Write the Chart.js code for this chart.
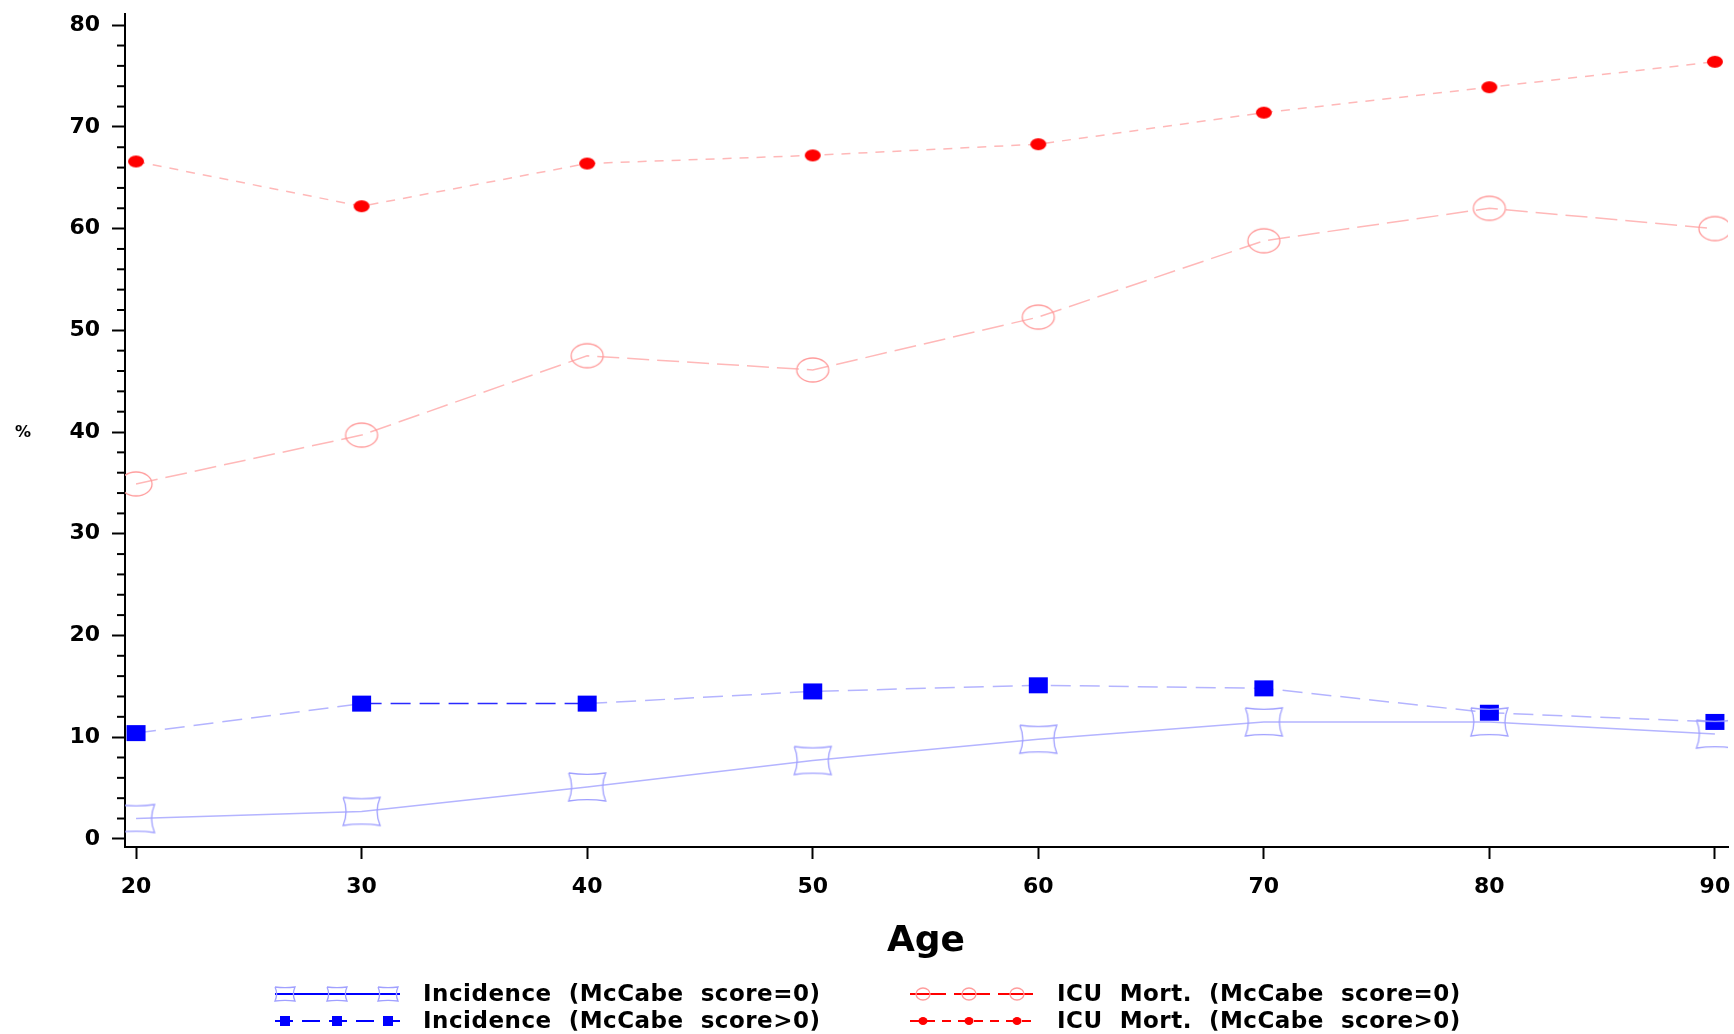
<!DOCTYPE html>
<html>
<head>
<meta charset="utf-8">
<script src="https://cdn.jsdelivr.net/npm/chart.js@4.4.0/dist/chart.umd.min.js"></script>
<style>
html, body { margin: 0; padding: 0; background: #fff; }
#wrap { width: 1734px; height: 1034px; }
</style>
</head>
<body>
<div id="wrap"><canvas id="ageChart"></canvas></div>
<script>
// values
var ages = [20, 30, 40, 50, 60, 70, 80, 90];
var incidenceZero = [2.0, 2.7, 5.1, 7.7, 9.8, 11.5, 11.5, 10.3];
var incidencePos = [10.4, 13.3, 13.3, 14.5, 15.1, 14.8, 12.4, 11.5];
var mortZero = [34.9, 39.7, 47.5, 46.1, 51.3, 58.8, 62.0, 60.0];
var mortPos = [66.6, 62.2, 66.4, 67.2, 68.3, 71.4, 73.9, 76.4];
var xTicks = [20, 30, 40, 50, 60, 70, 80, 90];
var yTicks = [0, 10, 20, 30, 40, 50, 60, 70, 80];
var seriesNames = [
    'Incidence  (McCabe  score=0)',
    'Incidence  (McCabe  score>0)',
    'ICU  Mort.  (McCabe  score=0)',
    'ICU  Mort.  (McCabe  score>0)'
];

var PINK = '#ffb8b8';
var LAVENDER = '#b4b4ff';
var FONT = '"DejaVu Sans", sans-serif';

function pts(vals) {
    return vals.map(function (v, i) { return { x: ages[i], y: v }; });
}

// marker drawing helpers (used both on the plot and in the legend)
function drawPillow(ctx, cx, cy, w, h, color) {
    // box with slightly concave sides
    var l = cx - w / 2, r = cx + w / 2, t = cy - h / 2, b = cy + h / 2;
    var bx = w * 0.08, by = h * 0.05;
    ctx.save();
    ctx.strokeStyle = color;
    ctx.lineWidth = 1.3;
    ctx.beginPath();
    ctx.moveTo(l, t); ctx.quadraticCurveTo(cx, t + by * 2, r, t);
    ctx.quadraticCurveTo(r - bx * 2, cy, r, b);
    ctx.quadraticCurveTo(cx, b - by * 2, l, b);
    ctx.quadraticCurveTo(l + bx * 2, cy, l, t);
    ctx.stroke();
    ctx.restore();
}
function drawEllipse(ctx, cx, cy, w, h, color, filled) {
    ctx.save();
    ctx.beginPath();
    ctx.ellipse(cx, cy, w / 2, h / 2, 0, 0, Math.PI * 2);
    if (filled) { ctx.fillStyle = color; ctx.fill(); }
    else { ctx.strokeStyle = color; ctx.lineWidth = 1.3; ctx.stroke(); }
    ctx.restore();
}
function drawBox(ctx, cx, cy, w, h, color) {
    ctx.save();
    ctx.fillStyle = color;
    ctx.fillRect(cx - w / 2, cy - h / 2, w, h);
    ctx.restore();
}
function marker(w, h, fn) {
    var c = document.createElement('canvas');
    c.width = w + 4; c.height = h + 4;
    fn(c.getContext('2d'), c.width / 2, c.height / 2);
    return c;
}

var pillowMark = marker(37, 28, function (ctx, x, y) { drawPillow(ctx, x, y, 37, 28, '#a0a0ff'); });
var squareMark = marker(19, 16, function (ctx, x, y) { drawBox(ctx, x, y, 19, 16, '#0000ff'); });
var circleMark = marker(32, 24, function (ctx, x, y) { drawEllipse(ctx, x, y, 32, 24, '#ff9c9c', false); });
var dotMark = marker(16, 12, function (ctx, x, y) { drawEllipse(ctx, x, y, 16, 12, '#ff0000', true); });

// minor y ticks, axis labels and the two-column legend
var decorations = {
    id: 'decorations',
    afterDraw: function (chart) {
        var ctx = chart.ctx;
        var y = chart.scales.y;
        var area = chart.chartArea;
        ctx.save();
        ctx.strokeStyle = '#000';
        ctx.lineWidth = 2;
        for (var v = 0; v <= 80; v += 2) {
            if (v % 10 === 0) continue;
            var py = y.getPixelForValue(v);
            ctx.beginPath();
            ctx.moveTo(area.left - 8, py);
            ctx.lineTo(area.left, py);
            ctx.stroke();
        }

        ctx.fillStyle = '#000';
        ctx.textAlign = 'center';
        ctx.textBaseline = 'middle';
        ctx.font = 'bold 36px ' + FONT;
        ctx.fillText('Age', 926, 942);
        ctx.font = 'bold 16px ' + FONT;
        ctx.fillText('%', 23, 433);

        // legend
        var rows = [994, 1021];
        var cols = [
            { x0: 275, x1: 400, marks: [285, 337, 388], text: 423 },
            { x0: 910, x1: 1033, marks: [923, 969, 1017], text: 1057 }
        ];
        var samples = [
            { col: 0, row: 0, color: '#0000ff', dash: [], draw: function (mx, my) { drawPillow(ctx, mx, my, 20, 14, '#a0a0ff'); } },
            { col: 0, row: 1, color: '#0000ff', dash: [18, 9], draw: function (mx, my) { drawBox(ctx, mx, my, 10, 10, '#0000ff'); } },
            { col: 1, row: 0, color: '#ff0000', dash: [36, 8], draw: function (mx, my) { drawEllipse(ctx, mx, my, 14, 12, '#ff9c9c', false); } },
            { col: 1, row: 1, color: '#ff0000', dash: [9, 7], draw: function (mx, my) { drawEllipse(ctx, mx, my, 9, 8, '#ff0000', true); } }
        ];
        samples.forEach(function (s, i) {
            var c = cols[s.col], ry = rows[s.row];
            ctx.save();
            ctx.strokeStyle = s.color;
            ctx.lineWidth = 2;
            ctx.setLineDash(s.dash);
            ctx.beginPath();
            ctx.moveTo(c.x0, ry);
            ctx.lineTo(c.x1, ry);
            ctx.stroke();
            ctx.restore();
            c.marks.forEach(function (mx) { s.draw(mx, ry); });
            ctx.save();
            ctx.fillStyle = '#000';
            ctx.textAlign = 'left';
            ctx.textBaseline = 'middle';
            ctx.font = 'bold 23px ' + FONT;
            ctx.letterSpacing = '0.5px';
            ctx.fillText(seriesNames[i], c.text, ry + 1);
            ctx.restore();
        });
        ctx.restore();
    }
};

var ctx = document.getElementById('ageChart').getContext('2d');
new Chart(ctx, {
    type: 'line',
    data: {
        datasets: [{
            label: seriesNames[0],
            data: pts(incidenceZero),
            borderColor: LAVENDER,
            borderWidth: 1.5,
            pointStyle: pillowMark,
            pointRadius: 14
        },
        {
            label: seriesNames[1],
            data: pts(incidencePos),
            borderColor: LAVENDER,
            borderWidth: 1.5,
            borderDash: [20, 9],
            segment: {
                borderColor: function (c) { return c.p0DataIndex === 1 ? '#2a2aff' : undefined; }
            },
            pointStyle: squareMark,
            pointRadius: 10
        },
        {
            label: seriesNames[2],
            data: pts(mortZero),
            borderColor: PINK,
            borderWidth: 1.5,
            borderDash: [22, 8],
            pointStyle: circleMark,
            pointRadius: 12
        },
        {
            label: seriesNames[3],
            data: pts(mortPos),
            borderColor: PINK,
            borderWidth: 1.5,
            borderDash: [9, 8],
            pointStyle: dotMark,
            pointRadius: 8
        }]
    },
    options: {
        responsive: true,
        maintainAspectRatio: false,
        animation: false,
        events: [],
        layout: { autoPadding: false, padding: { left: 0, top: 14, right: 6, bottom: 0 } },
        plugins: {
            legend: { display: false },
            tooltip: { enabled: false }
        },
        scales: {
            x: {
                type: 'linear',
                min: 19.51,
                max: 90.58,
                afterBuildTicks: function (scale) {
                    scale.ticks = xTicks.map(function (v) { return { value: v }; });
                },
                afterFit: function (scale) {
                    // let the last tick label hang off the edge, as in the original
                    scale.height = 187;
                    scale.paddingLeft = 0;
                    scale.paddingRight = 0;
                },
                grid: { drawOnChartArea: false, tickLength: 12, tickColor: '#000', tickWidth: 2 },
                border: { color: '#000', width: 2 },
                ticks: {
                    color: '#000',
                    padding: 15,
                    maxRotation: 0,
                    font: { family: FONT, size: 22, weight: 'bold' }
                }
            },
            y: {
                min: -0.8,
                max: 81.1,
                afterBuildTicks: function (scale) {
                    scale.ticks = yTicks.map(function (v) { return { value: v }; });
                },
                afterFit: function (scale) {
                    scale.width = 125;
                    scale.paddingTop = 0;
                    scale.paddingBottom = 0;
                },
                grid: { drawOnChartArea: false, tickLength: 13, tickColor: '#000', tickWidth: 2 },
                border: { color: '#000', width: 2 },
                ticks: {
                    color: '#000',
                    padding: 12,
                    font: { family: FONT, size: 22, weight: 'bold' }
                }
            }
        }
    },
    plugins: [decorations]
});
</script>
</body>
</html>
